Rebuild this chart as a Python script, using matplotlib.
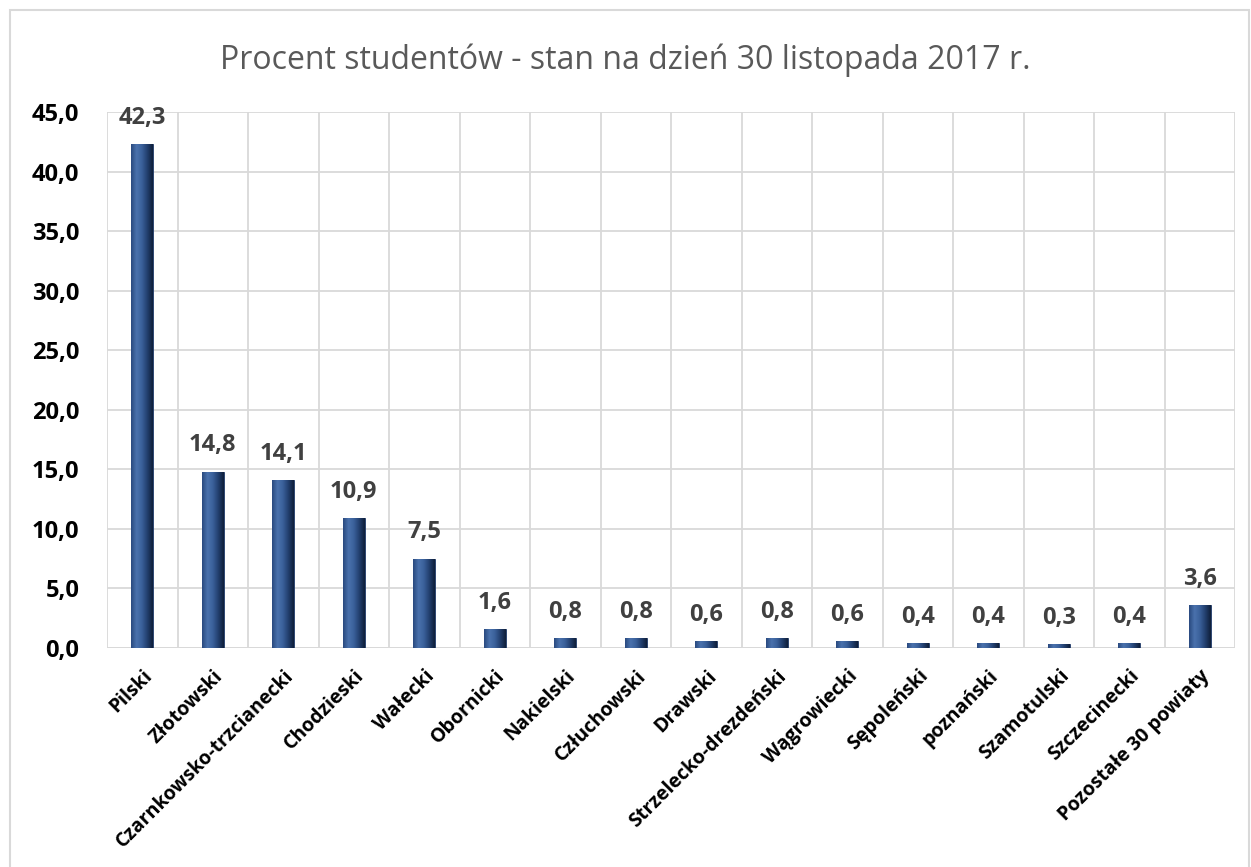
import numpy as np
import matplotlib
matplotlib.use("Agg")
import matplotlib.pyplot as plt
from matplotlib.patches import Rectangle
from matplotlib.colors import LinearSegmentedColormap

powiaty = ["Pilski", "Złotowski", "Czarnkowsko-trzcianecki", "Chodzieski",
           "Wałecki", "Obornicki", "Nakielski", "Człuchowski", "Drawski",
           "Strzelecko-drezdeński", "Wągrowiecki", "Sępoleński", "poznański",
           "Szamotulski", "Szczecinecki", "Pozostałe 30 powiaty"]
procent = [42.3, 14.8, 14.1, 10.9, 7.5, 1.6, 0.8, 0.8, 0.6, 0.8, 0.6,
           0.4, 0.4, 0.3, 0.4, 3.6]
y_ticks = np.arange(0, 46, 5)

plt.rcParams["font.family"] = ["Open Sans", "DejaVu Sans"]

fig = plt.figure(figsize=(12.51, 8.67), dpi=100)
ax = fig.add_axes([107 / 1251, 1 - 648 / 867, 1128 / 1251, 536 / 867])

# outer chart frame
fig.patches.append(Rectangle((10 / 1251, -0.05), 1239 / 1251, 1.05 - 10 / 867,
                             transform=fig.transFigure, fill=False,
                             edgecolor="#d9d9d9", linewidth=1.5))

x = np.arange(len(powiaty))
bars = ax.bar(x, procent, width=0.31, color="#2f5597", zorder=3,
              edgecolor="#1f3864", linewidth=0.6)

# horizontal shading to mimic the bevelled bars
cmap = LinearSegmentedColormap.from_list(
    "bev", ["#2a4a7f", "#4a72ad", "#3a609a", "#223f6e", "#0f1f3a"])
grad = np.linspace(0, 1, 64).reshape(1, -1)
for b in bars:
    x0, w, h = b.get_x(), b.get_width(), b.get_height()
    im = ax.imshow(grad, cmap=cmap, aspect="auto", zorder=3.5,
                   extent=(x0, x0 + w, 0, h))
    im.set_clip_path(b)

for xi, v in zip(x, procent):
    ax.text(xi, v + 1.2, f"{v:.1f}".replace(".", ","), ha="center",
            va="bottom", fontsize=17, fontweight="bold", color="#404040",
            zorder=4)

ax.set_xlim(-0.5, len(powiaty) - 0.5)
ax.set_ylim(0, 45)
ax.set_yticks(y_ticks)
ax.set_yticklabels([f"{t:.1f}".replace(".", ",") for t in y_ticks],
                   fontsize=17, fontweight="bold", color="black")
ax.set_xticks(x)
ax.set_xticklabels(powiaty, rotation=45, ha="right", rotation_mode="anchor",
                   fontsize=14, fontweight="bold", color="black")
ax.tick_params(axis="both", length=0)
ax.tick_params(axis="x", pad=13)
ax.tick_params(axis="y", pad=20)

ax.set_xticks(np.arange(-0.5, len(powiaty)), minor=True)
ax.grid(True, axis="y", color="#d9d9d9", linewidth=1.3, zorder=0)
ax.grid(True, axis="x", which="minor", color="#d9d9d9", linewidth=1.3,
        zorder=0)
ax.tick_params(axis="x", which="minor", length=0)
for s in ax.spines.values():
    s.set_visible(False)
ax.axhline(0, color="#d9d9d9", linewidth=1.3, zorder=2)

fig.text(0.5, 1 - 60 / 867, "Procent studentów - stan na dzień 30 listopada 2017 r.",
         ha="center", va="center", fontsize=23, color="#595959")

fig.savefig("out.png", dpi=100)
